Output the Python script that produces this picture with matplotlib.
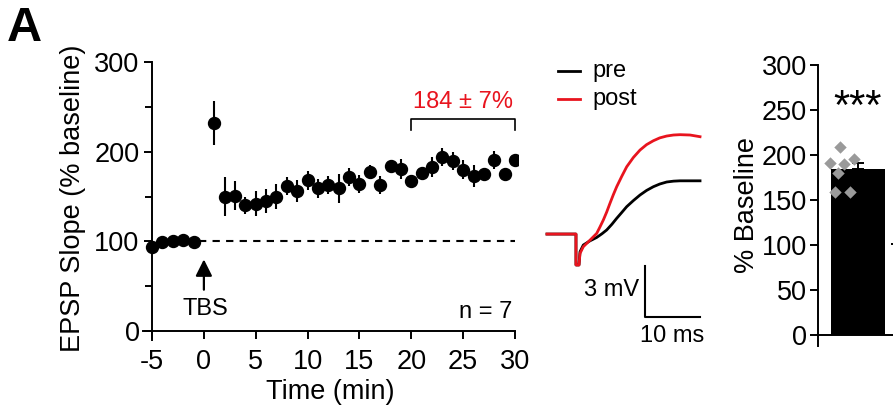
import numpy as np
import matplotlib
matplotlib.use("Agg")
import matplotlib.pyplot as plt

plt.rcParams["font.family"] = ["Liberation Sans", "DejaVu Sans"]
plt.rcParams["axes.unicode_minus"] = False

# time course (min) and EPSP slope (% baseline), mean +/- sem
time_min = [-5, -4, -3, -2, -1, 1, 2, 3, 4, 5, 6, 7, 8, 9, 10, 11, 12, 13, 14, 15,
            16, 17, 18, 19, 20, 21, 22, 23, 24, 25, 26, 27, 28, 29, 30]
slope_mean = [94, 99, 100, 102, 99, 232, 150, 151, 140, 142, 145, 150, 162, 156, 168,
              159, 163, 159, 172, 164, 177, 163, 184, 181, 167, 176, 183, 194, 190, 180,
              173, 175, 191, 175, 191]
slope_sem = [4, 3, 3, 3, 3, 25, 22, 16, 10, 14, 13, 14, 10, 12, 11, 11, 10, 16, 10, 10,
             8, 10, 7, 11, 5, 5, 11, 10, 10, 11, 12, 5, 10, 5, 5]

# example traces (ms, mV relative to baseline)
pre_t = [0, 5.27, 5.27, 5.82, 6.0, 6.6, 7.82, 9.04, 10.0, 10.85, 11.8, 12.67, 13.6,
         14.49, 15.7, 16.91, 18.1, 19.33, 20.5, 21.76, 23.0, 24.18, 26.0, 27.82]
pre_v = [0, 0, -1.83, -1.83, -1.05, -0.65, -0.40, -0.20, 0.02, 0.24, 0.58, 0.93, 1.28,
         1.62, 1.98, 2.31, 2.58, 2.80, 2.96, 3.08, 3.13, 3.15, 3.15, 3.15]
post_t = [0, 5.27, 5.27, 5.82, 6.0, 6.6, 7.82, 8.4, 9.04, 9.6, 10.24, 10.85, 11.45,
          12.05, 12.67, 13.6, 14.49, 15.7, 16.91, 18.1, 19.33, 20.5, 21.76, 23.0,
          24.18, 26.0, 27.82]
post_v = [0, 0, -1.83, -1.83, -1.15, -0.75, -0.36, -0.17, 0.04, 0.40, 0.83, 1.30, 1.82,
          2.32, 2.80, 3.42, 3.98, 4.53, 4.97, 5.29, 5.52, 5.69, 5.80, 5.86, 5.88, 5.86,
          5.76]

# summary
ltp_mean = 184
ltp_sem = 7
cells = [208.6, 191.4, 189.7, 195.2, 179.7, 159.2, 159.2]
cells_x = [-0.29, -0.44, -0.24, -0.09, -0.32, -0.37, -0.15]

RED = "#e8141e"
FS = 19.5   # ticks / axis labels
FS2 = 17    # annotations

fig = plt.figure(figsize=(8.93, 4.12), dpi=100)

# ---- panel A time course
ax = fig.add_axes([0.1598, 0.1791, 0.4204, 0.6813])
ax.errorbar(time_min, slope_mean, yerr=slope_sem, fmt="o", color="black",
            ms=8.6, elinewidth=1.5, capsize=0, zorder=3)
ax.plot([-0.5, 30], [100, 100], ls=(0, (3.5, 3)), color="black", lw=1.5, zorder=1)
ax.set_xlim(-5.9, 30.3)
ax.set_ylim(-8, 305)
for s in ["top", "right"]:
    ax.spines[s].set_visible(False)
ax.spines["left"].set_position(("data", -5))
ax.spines["bottom"].set_position(("data", 0))
ax.spines["left"].set_bounds(-10, 300)
ax.spines["bottom"].set_bounds(-5.9, 30)
for s in ["left", "bottom"]:
    ax.spines[s].set_linewidth(1.4)
ax.set_xticks(range(-5, 31, 5))
ax.set_yticks([0, 100, 200, 300])
ax.set_yticks([50, 150, 250], minor=True)
ax.tick_params(which="major", length=6, width=1.4, labelsize=FS, pad=3)
ax.tick_params(axis="x", which="major", pad=7)
ax.tick_params(which="minor", length=5, width=1.4)
ax.set_xlabel("Time (min)", fontsize=FS, labelpad=3)
ax.set_ylabel("EPSP Slope (% baseline)", fontsize=FS, labelpad=6)
ax.annotate("", xy=(0, 83), xytext=(0, 43),
            arrowprops=dict(arrowstyle="-|>,head_width=0.5,head_length=1.0",
                            color="black", lw=1.6))
ax.text(0.1, 25, "TBS", fontsize=FS2, ha="center", va="center")
ax.text(29.7, 21, "n = 7", fontsize=FS2, ha="right", va="center")
ax.plot([20, 20, 30, 30], [224, 236, 236, 224], color="black", lw=1.2)
ax.text(25, 255, f"{ltp_mean} \u00b1 {ltp_sem}%", color=RED, fontsize=FS2,
        ha="center", va="center")

fig.text(0.008, 0.985, "A", fontsize=35, fontweight="bold", va="top")

# ---- example traces
at = fig.add_axes([540 / 893, 1 - 350 / 412, 180 / 893, 300 / 412])
at.plot(pre_t, pre_v, color="black", lw=2)
at.plot(post_t, post_v, color=RED, lw=2)
at.set_xlim(-1.27, 31.45)
at.set_ylim(-6.86, 10.89)
at.axis("off")
at.plot([17.82, 17.82, 27.82], [-1.89, -4.89, -4.89], color="black", lw=1.5)
at.text(16.8, -3.31, "3 mV", fontsize=FS2, ha="right", va="center")
at.text(22.7, -6.04, "10 ms", fontsize=FS2, ha="center", va="center")
at.plot([2.0, 6.0], [9.64, 9.64], color="black", lw=2)
at.plot([2.0, 6.0], [7.99, 7.99], color=RED, lw=2)
at.text(8.3, 9.64, "pre", fontsize=FS2, va="center")
at.text(8.3, 7.99, "post", fontsize=FS2, va="center")

# ---- summary bar
ab = fig.add_axes([818 / 893, 0.1607, 108 / 893, 0.6816])
ab.bar([0.4], [ltp_mean], width=0.8, color="black", zorder=2)
ab.errorbar([0.4], [ltp_mean], yerr=[[0], [ltp_sem]], fmt="none", ecolor="black",
            capsize=4, elinewidth=1.4, capthick=1.4, zorder=2)
ab.scatter(np.array(cells_x) + 0.4 + 0.03, cells, marker="D", s=40, color="#9a9a9a",
           zorder=3, linewidths=0)
ab.plot([0.89, 1.4], [101, 101], ls=(0, (3.5, 3)), color="black", lw=1.4)
ab.text(0.4, 252, "***", fontsize=30, ha="center", va="center")
ab.set_xlim(-0.193, 1.407)
ab.set_ylim(-12, 300)
for s in ["top", "right"]:
    ab.spines[s].set_visible(False)
ab.spines["bottom"].set_position(("data", 0))
ab.spines["left"].set_bounds(-12, 300)
for s in ["left", "bottom"]:
    ab.spines[s].set_linewidth(1.4)
ab.set_xticks([])
ab.set_yticks(range(0, 301, 50))
ab.tick_params(length=6, width=1.4, labelsize=FS, pad=2)
ab.set_ylabel("% Baseline", fontsize=FS, labelpad=1)

fig.savefig("out.png", dpi=100)
